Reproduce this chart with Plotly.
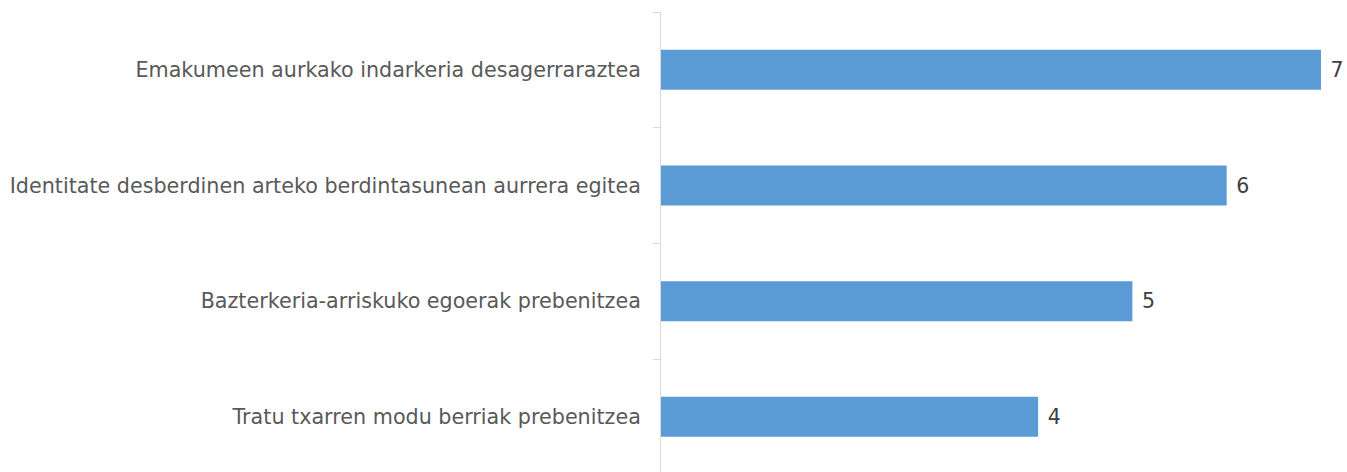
import plotly.graph_objects as go

categories = [
    "Emakumeen aurkako indarkeria desagerraraztea",
    "Identitate desberdinen arteko berdintasunean aurrera egitea",
    "Bazterkeria-arriskuko egoerak prebenitzea",
    "Tratu txarren modu berriak prebenitzea",
]
values = [7, 6, 5, 4]
value_labels = [str(v) for v in values]

fig = go.Figure(
    go.Bar(
        x=values,
        y=categories,
        orientation="h",
        marker=dict(color="#5B9BD5", line=dict(width=0)),
        width=0.346,
        text=["\u00a0" + t for t in value_labels],
        textposition="outside",
        constraintext="none",
        textfont=dict(family="DejaVu Sans", size=20.5, color="#404040"),
        cliponaxis=False,
        hoverinfo="skip",
    )
)

fig.update_layout(
    width=1347,
    height=472,
    margin=dict(l=661, r=0, t=12, b=0, autoexpand=False),
    paper_bgcolor="white",
    plot_bgcolor="white",
    showlegend=False,
    font=dict(family="DejaVu Sans", size=20.7, color="#595959"),
    xaxis=dict(
        range=[0, 7.276],
        showgrid=False,
        zeroline=False,
        showticklabels=False,
        ticks="",
        showline=False,
    ),
    yaxis=dict(
        categoryorder="array",
        categoryarray=categories,
        range=[3.477, -0.5],
        showgrid=False,
        zeroline=False,
        showline=True,
        linecolor="#d9d9d9",
        linewidth=1,
        ticks="outside",
        tickson="boundaries",
        ticklen=7,
        tickcolor="#d9d9d9",
        tickwidth=1,
        ticklabelstandoff=15,
        tickfont=dict(family="DejaVu Sans", size=20.7, color="#595959"),
        automargin=False,
    ),
)

fig.write_html(
    "out.html",
    config={"displayModeBar": False},
    post_script="document.body.style.margin='0';document.body.style.overflow='hidden';",
)
